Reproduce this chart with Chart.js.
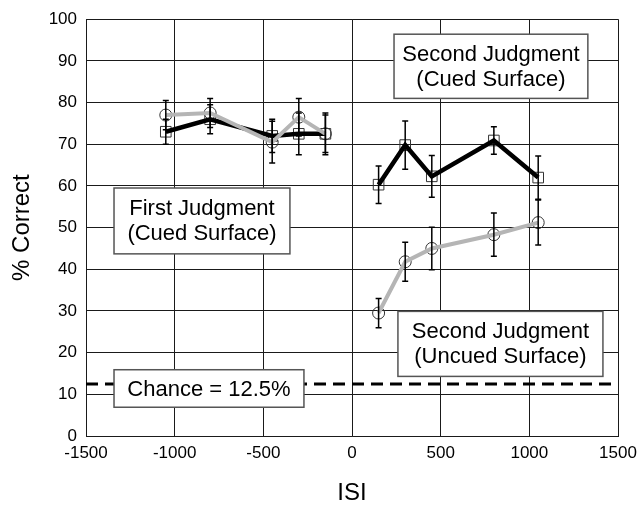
<!DOCTYPE html>
<html>
<head>
<meta charset="utf-8">
<script src="https://cdn.jsdelivr.net/npm/chart.js@4.4.0/dist/chart.umd.min.js"></script>
<style>
  html, body { margin: 0; padding: 0; background: #fff; }
  #wrap { width: 640px; height: 505px; }
</style>
</head>
<body>
<div id="wrap"><canvas id="isiChart" width="640" height="505"></canvas></div>
<script>
// ISI (ms) for each judgment
const isiFirst = [-1050, -800, -450, -300, -150];
const isiSecond = [150, 300, 450, 800, 1050];

// % correct
const firstCued = [73, 76, 72, 72.5, 72.5];
const firstUncued = [77, 77.5, 70.5, 76.5, 72.5];
const secondCued = [60.3, 69.8, 62.3, 70.9, 62];
const secondUncued = [29.5, 41.8, 45, 48.3, 51.2];

// error bars (+/-)
const errFirstCued = [3, 3.5, 4, 5, 5];
const errFirstUncued = [3.5, 3.5, 5, 4.5, 4.5];
const errSecondCued = [4.5, 5.8, 5, 3.3, 5.2];
const errSecondUncued = [3.5, 4.7, 5.1, 5.2, 5.4];

const chance = 12.5;

const FONT = "'Liberation Sans', Arial, Helvetica, sans-serif";
const GRAY = '#b5b5b5';

function pts(xs, ys) {
    return xs.map((x, i) => ({x: x, y: ys[i]}));
}

// label boxes, in data units
const boxes = [
    {x0: 237, x1: 1330, y0: 96.4, y1: 81, lines: ['Second Judgment', '(Cued Surface)']},
    {x0: -1342, x1: -350, y0: 59.5, y1: 43.7, lines: ['First Judgment', '(Cued Surface)']},
    {x0: 259, x1: 1415, y0: 29.9, y1: 14.3, lines: ['Second Judgment', '(Uncued Surface)']},
    {x0: -1342, x1: -271, y0: 15.9, y1: 6.9, lines: ['Chance = ' + chance + '%']}
];

const errSets = [
    [isiFirst, firstCued, errFirstCued],
    [isiFirst, firstUncued, errFirstUncued],
    [isiSecond, secondCued, errSecondCued],
    [isiSecond, secondUncued, errSecondUncued]
];

const extras = {
    id: 'extras',
    beforeDatasetsDraw(chart) {
        const {ctx, chartArea, scales: {x, y}} = chart;
        // chance line
        ctx.save();
        ctx.strokeStyle = '#000';
        ctx.lineWidth = 3;
        ctx.setLineDash([12, 7]);
        const yc = y.getPixelForValue(chance);
        ctx.beginPath();
        ctx.moveTo(chartArea.left, yc);
        ctx.lineTo(chartArea.right, yc);
        ctx.stroke();
        ctx.restore();

        // text boxes
        ctx.save();
        ctx.font = '22px ' + FONT;
        ctx.textAlign = 'center';
        ctx.textBaseline = 'middle';
        boxes.forEach(b => {
            const l = x.getPixelForValue(b.x0), r = x.getPixelForValue(b.x1);
            const t = y.getPixelForValue(b.y0), bt = y.getPixelForValue(b.y1);
            ctx.fillStyle = '#fff';
            ctx.fillRect(l, t, r - l, bt - t);
            ctx.strokeStyle = '#555';
            ctx.lineWidth = 1.5;
            ctx.strokeRect(l, t, r - l, bt - t);
            ctx.fillStyle = '#000';
            const cx = (l + r) / 2, cy = (t + bt) / 2;
            const lh = 25;
            b.lines.forEach((txt, i) => {
                ctx.fillText(txt, cx, cy + (i - (b.lines.length - 1) / 2) * lh + 1);
            });
        });
        ctx.restore();
    },
    afterDatasetsDraw(chart) {
        const {ctx, scales: {x, y}} = chart;
        ctx.save();
        ctx.strokeStyle = '#000';
        ctx.lineWidth = 1.5;
        errSets.forEach(([xs, ys, es]) => {
            xs.forEach((xv, i) => {
                const px = x.getPixelForValue(xv);
                const top = y.getPixelForValue(ys[i] + es[i]);
                const bot = y.getPixelForValue(ys[i] - es[i]);
                ctx.beginPath();
                ctx.moveTo(px, top); ctx.lineTo(px, bot);
                ctx.moveTo(px - 3, top); ctx.lineTo(px + 3, top);
                ctx.moveTo(px - 3, bot); ctx.lineTo(px + 3, bot);
                ctx.stroke();
            });
        });
        ctx.restore();
    }
};

function lineSet(data, color, width) {
    return {
        data: data, showLine: true, borderColor: color, borderWidth: width,
        pointRadius: 0, fill: false, order: 1
    };
}

function markerSet(data, style, radius) {
    return {
        data: data, showLine: false, pointStyle: style, pointRadius: radius,
        pointBorderColor: '#333', pointBorderWidth: 1,
        pointBackgroundColor: 'rgba(0,0,0,0)', order: 2
    };
}

const ctx = document.getElementById('isiChart').getContext('2d');

new Chart(ctx, {
    type: 'scatter',
    data: {
        datasets: [
            lineSet(pts(isiFirst, firstUncued), GRAY, 4),
            lineSet(pts(isiFirst, firstCued), '#000', 4.5),
            lineSet(pts(isiSecond, secondUncued), GRAY, 4),
            lineSet(pts(isiSecond, secondCued), '#000', 4.5),
            markerSet(pts(isiFirst, firstUncued), 'circle', 6),
            markerSet(pts(isiFirst, firstCued), 'rect', 7.5),
            markerSet(pts(isiSecond, secondUncued), 'circle', 6),
            markerSet(pts(isiSecond, secondCued), 'rect', 7.5)
        ]
    },
    options: {
        responsive: false,
        animation: false,
        layout: { padding: {left: 0, right: 0, top: 15, bottom: 0} },
        plugins: {
            legend: { display: false },
            tooltip: { enabled: false }
        },
        scales: {
            x: {
                type: 'linear', min: -1500, max: 1500,
                ticks: { stepSize: 500, color: '#000', padding: 7, font: {family: FONT, size: 17},
                         callback: v => String(v) },
                grid: { color: '#1a1a1a', lineWidth: 1, drawTicks: false },
                border: { color: '#1a1a1a' },
                title: { display: true, text: 'ISI', color: '#000', font: {family: FONT, size: 24, lineHeight: 1}, padding: {top: 0, bottom: 0} },
                afterFit(s) { s.height = 69; s.paddingRight = 22; }
            },
            y: {
                min: 0, max: 100,
                ticks: { stepSize: 10, color: '#000', padding: 9, font: {family: FONT, size: 17} },
                grid: { color: '#1a1a1a', lineWidth: 1, drawTicks: false },
                border: { color: '#1a1a1a' },
                title: { display: true, text: '% Correct', color: '#000', font: {family: FONT, size: 24, lineHeight: 1}, padding: {top: 10, bottom: 0} },
                afterFit(s) { s.width = 86; }
            }
        }
    },
    plugins: [extras]
});
</script>
</body>
</html>
